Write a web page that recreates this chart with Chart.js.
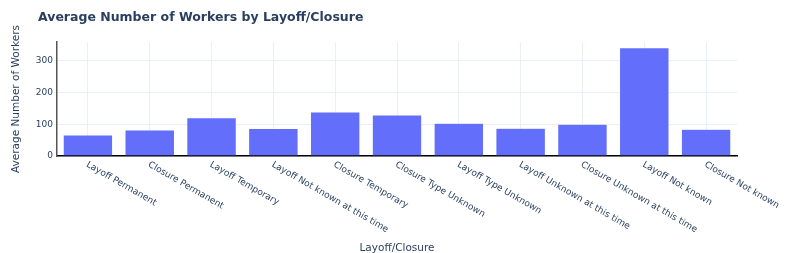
<!DOCTYPE html>
<html>
<head>
<meta charset="utf-8">
<script src="https://cdn.jsdelivr.net/npm/chart.js@4.4.1/dist/chart.umd.min.js"></script>
<style>
  html, body { margin: 0; padding: 0; background: #fff; }
  #wrap { width: 788px; height: 253px; position: relative; }
</style>
</head>
<body>
<div id="wrap"><canvas id="chart" width="788" height="253"></canvas></div>
<script>
const categories = [
    'Layoff Permanent', 'Closure Permanent', 'Layoff Temporary',
    'Layoff Not known at this time', 'Closure Temporary', 'Closure Type Unknown',
    'Layoff Type Unknown', 'Layoff Unknown at this time', 'Closure Unknown at this time',
    'Layoff Not known', 'Closure Not known'
];
const avgWorkers = [66, 82, 120, 86, 138, 129, 103, 87, 100, 340, 84];
const yTicks = [0, 100, 200, 300];

const textColor = '#2a3f5f';
const font = 'DejaVu Sans';

// plotly-style labels: start at tick, rotated 30deg clockwise
const slantLabels = {
    id: 'slantLabels',
    afterDraw(chart) {
        const ctx = chart.ctx;
        const xs = chart.scales.x;
        // title
        ctx.save();
        ctx.fillStyle = textColor;
        ctx.font = 'bold 12.5px "' + font + '"';
        ctx.textBaseline = 'alphabetic';
        ctx.textAlign = 'left';
        ctx.fillText('Average Number of Workers by Layoff/Closure', 38, 21);
        ctx.restore();

        ctx.save();
        ctx.fillStyle = textColor;
        ctx.font = '9px "' + font + '"';
        ctx.textAlign = 'left';
        ctx.textBaseline = 'middle';
        categories.forEach((c, i) => {
            const x = xs.getPixelForValue(i);
            ctx.save();
            ctx.translate(x - 1, xs.top + 8);
            ctx.rotate(Math.PI / 6);
            ctx.fillText(c, 0, 0);
            ctx.restore();
        });
        ctx.restore();
    }
};

new Chart(document.getElementById('chart'), {
    type: 'bar',
    data: {
        labels: categories,
        datasets: [{
            data: avgWorkers,
            backgroundColor: '#636efa',
            borderColor: 'rgba(255,255,255,0.3)',
            borderWidth: 0.5,
            barPercentage: 0.8,
            categoryPercentage: 1.0
        }]
    },
    options: {
        responsive: false,
        animation: false,
        layout: { padding: { top: 42, right: 51, left: 0, bottom: 0 } },
        plugins: {
            legend: { display: false },
            tooltip: { enabled: false }
        },
        scales: {
            x: {
                grid: { color: '#ebf0f8', offset: false, drawTicks: false },
                border: { color: '#000', width: 1.5 },
                ticks: { display: false },
                title: {
                    display: true,
                    text: 'Layoff/Closure',
                    color: textColor,
                    font: { family: font, size: 10.5 },
                    padding: { top: 0, bottom: -2 }
                },
                afterFit(scale) { scale.height = 97; }
            },
            y: {
                min: 0,
                max: 358,
                grid: { color: '#ebf0f8', drawTicks: false },
                border: { color: '#555', width: 1.5 },
                afterBuildTicks(scale) { scale.ticks = yTicks.map(v => ({ value: v })); },
                ticks: {
                    color: textColor,
                    font: { family: font, size: 9 },
                    padding: 4
                },
                title: {
                    display: true,
                    text: 'Average Number of Workers',
                    color: textColor,
                    font: { family: font, size: 10.5 },
                    padding: { top: 10, bottom: 0 }
                },
                afterFit(scale) { scale.width = 57; }
            }
        }
    },
    plugins: [slantLabels]
});
</script>
</body>
</html>
